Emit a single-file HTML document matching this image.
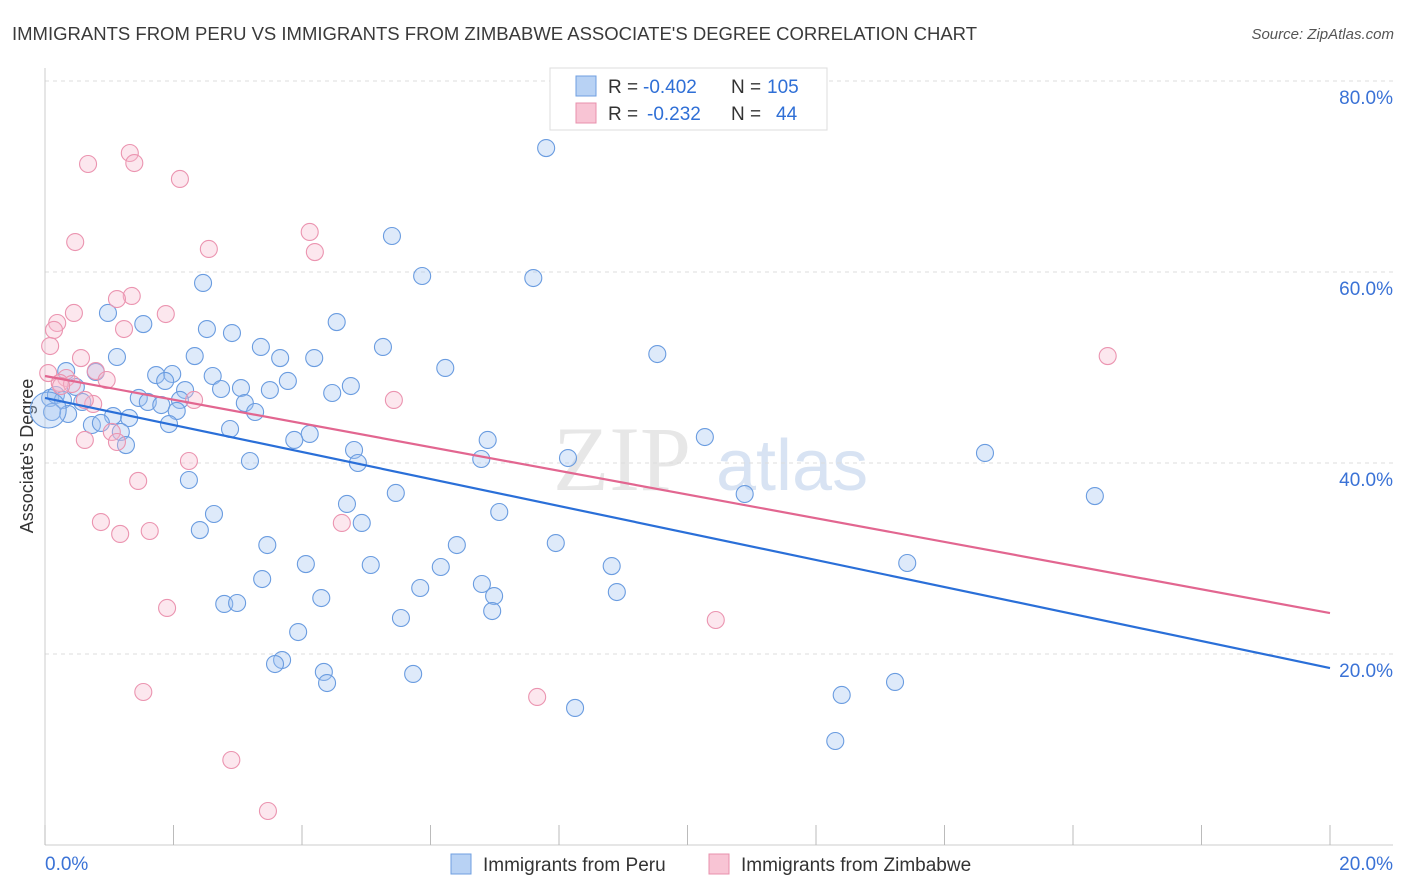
<!DOCTYPE html>
<html><head><meta charset="utf-8"><style>
body{margin:0;background:#fff;font-family:"Liberation Sans",sans-serif;}
svg{display:block}
</style></head><body>
<svg id="chart" width="1406" height="892">
<text x="12" y="40" font-size="18" fill="#3a3a3a" textLength="965" lengthAdjust="spacingAndGlyphs">IMMIGRANTS FROM PERU VS IMMIGRANTS FROM ZIMBABWE ASSOCIATE'S DEGREE CORRELATION CHART</text>
<text x="1394" y="39" font-size="15" fill="#555" font-style="italic" text-anchor="end">Source: ZipAtlas.com</text>
<text transform="translate(33,456) rotate(-90)" font-size="18" fill="#333" text-anchor="middle">Associate's Degree</text>
<g><text x="553" y="490" font-size="92" fill="#ddd" font-family="Liberation Serif,serif" opacity="0.7">ZIP</text><text x="716" y="490" font-size="72" fill="#c8d8ee" opacity="0.7">atlas</text></g>
<g id="grid"></g><g id="axes"></g><g id="pts"></g><g id="lines"></g>
<g>
<rect x="550" y="68" width="277" height="62" fill="#fff" stroke="#ddd"/>
<rect x="576" y="76" width="20" height="20" fill="#b8d2f4" stroke="#6f9fe0"/>
<rect x="576" y="103" width="20" height="20" fill="#f8c4d4" stroke="#e890ac"/>
<g font-size="19">
<text x="608" y="93" fill="#333">R =</text><text x="643" y="93" fill="#2f6fd6">-0.402</text><text x="731" y="93" fill="#333">N =</text><text x="767" y="93" fill="#2f6fd6">105</text></g>
<g font-size="19">
<text x="608" y="120" fill="#333">R =</text><text x="647" y="120" fill="#2f6fd6">-0.232</text><text x="731" y="120" fill="#333">N =</text><text x="776" y="120" fill="#2f6fd6">44</text></g>
</g>
<g>
<rect x="451" y="854" width="20" height="20" fill="#b8d2f4" stroke="#6f9fe0"/>
<text x="483" y="871" font-size="19" fill="#333">Immigrants from Peru</text>
<rect x="709" y="854" width="20" height="20" fill="#f8c4d4" stroke="#e890ac"/>
<text x="741" y="871" font-size="19" fill="#333">Immigrants from Zimbabwe</text>
</g>
</svg>
<script>
const blueX=[7.80,5.40,5.87,7.60,2.46,0.98,1.53,4.54,2.52,2.91,3.36,5.26,1.12,2.33,3.66,4.19,9.53,6.23,0.33,0.79,1.73,1.98,2.61,1.87,3.78,0.48,3.05,2.74,4.76,3.50,4.47,2.18,0.08,0.17,0.28,0.58,1.46,1.60,1.81,2.10,3.11,2.05,3.27,1.06,1.31,0.36,0.11,0.73,0.87,1.93,1.18,2.88,4.12,3.88,6.89,10.27,1.26,4.81,6.79,8.14,3.19,4.87,14.63,2.24,5.46,10.89,16.34,2.63,4.70,7.07,4.93,2.41,3.46,6.41,7.95,4.06,5.07,6.16,8.82,13.42,3.38,6.80,5.84,8.90,6.99,4.30,2.79,2.99,6.96,5.54,3.94,3.69,3.58,4.34,5.73,4.39,12.40,13.23,8.25,12.30,0.05];
const blueY=[72.98,63.77,59.58,59.37,58.85,55.71,54.55,54.76,54.03,53.61,52.15,52.15,51.10,51.20,50.99,50.99,51.41,49.95,49.63,49.53,49.21,49.32,49.11,48.59,48.59,47.96,47.85,47.75,48.06,47.64,47.33,47.64,46.81,47.12,46.60,46.39,46.81,46.39,46.07,46.60,46.28,45.45,45.34,44.92,44.71,45.13,45.34,43.98,44.19,44.08,43.25,43.56,43.04,42.41,42.41,42.72,41.88,41.36,40.42,40.52,40.21,40.00,41.05,38.22,36.86,36.75,36.54,34.66,35.71,34.87,33.72,32.98,31.41,31.41,31.62,29.42,29.32,29.11,29.21,29.53,27.85,27.33,26.91,26.49,26.07,25.86,25.24,25.34,24.50,23.77,22.30,19.37,18.95,18.12,17.91,16.96,15.71,17.07,14.35,10.89,45.55];
const pinkX=[0.67,1.32,1.39,2.10,0.47,2.55,4.12,4.20,1.35,1.12,0.45,0.19,1.88,0.14,1.23,0.08,0.56,16.54,0.05,0.79,0.33,0.23,0.96,0.42,0.75,2.32,5.43,0.62,1.04,1.12,2.24,1.45,0.87,4.62,1.63,1.17,1.90,10.44,1.53,7.66,2.90,3.47,0.25,0.62];
const pinkY=[71.31,72.46,71.41,69.74,63.14,62.41,64.19,62.09,57.49,57.17,55.71,54.66,55.60,53.93,54.03,52.25,50.99,51.20,49.42,49.63,48.90,48.38,48.69,48.27,46.18,46.60,46.60,42.41,43.25,42.20,40.21,38.12,33.82,33.72,32.88,32.57,24.82,23.56,16.02,15.50,8.90,3.56,48.06,46.60];
const blueTrend=[46.81,18.53];
const pinkTrend=[49.11,24.29];
const yTicks=[20,40,60,80];
const yTickLabels=["20.0%","40.0%","60.0%","80.0%"];
const xTicks=[0,2,4,6,8,10,12,14,16,18,20];
const NS="http://www.w3.org/2000/svg";
const sx=v=>45+v*64.25, sy=v=>845-v*9.55;
function mk(tag,attrs,parent){const e=document.createElementNS(NS,tag);for(const k in attrs)e.setAttribute(k,attrs[k]);document.getElementById(parent).appendChild(e);return e;}
yTicks.forEach((t,i)=>{
 const g=mk('line',{x1:45,x2:1393,y1:sy(t),y2:sy(t),stroke:'#ddd','stroke-dasharray':'4,4'},'grid');
 
 
 const l=mk('text',{x:1393,y:sy(t)+23,'font-size':19,fill:'#3a72d6','text-anchor':'end'},'grid');
 l.textContent=yTickLabels[i];
 
 
});
const ax=mk('line',{x1:45,x2:45,y1:68,y2:845,stroke:'#ccc'},'axes');


const bx=mk('line',{x1:45,x2:1393,y1:845,y2:845,stroke:'#ccc'},'axes');


xTicks.forEach(t=>{
 const tk=mk('line',{x1:sx(t),x2:sx(t),y1:825,y2:845,stroke:'#bbb'},'axes');
 
 
});
const x0=mk('text',{x:45,y:870,'font-size':19,fill:'#3a72d6'},'axes');x0.textContent='0.0%';


const x1=mk('text',{x:1393,y:870,'font-size':19,fill:'#3a72d6','text-anchor':'end'},'axes');x1.textContent='20.0%';


blueX.forEach((v,i)=>{
 const big=i===blueX.length-1;
 const c=mk('circle',{cx:sx(v),cy:sy(blueY[i]),r:big?18:8.5,fill:'rgba(160,196,242,0.35)',stroke:'#6a9ce0','stroke-width':1.1},'pts');
 
 
});
pinkX.forEach((v,i)=>{
 const c=mk('circle',{cx:sx(v),cy:sy(pinkY[i]),r:8.5,fill:'rgba(246,186,206,0.35)',stroke:'#eb94b0','stroke-width':1.1},'pts');
 
 
});
const bl=mk('line',{x1:sx(0),y1:sy(blueTrend[0]),x2:sx(20),y2:sy(blueTrend[1]),stroke:'#2a6fd8','stroke-width':2.2},'lines');


const pl=mk('line',{x1:sx(0),y1:sy(pinkTrend[0]),x2:sx(20),y2:sy(pinkTrend[1]),stroke:'#e26690','stroke-width':2.2},'lines');


</script>
</body></html>
